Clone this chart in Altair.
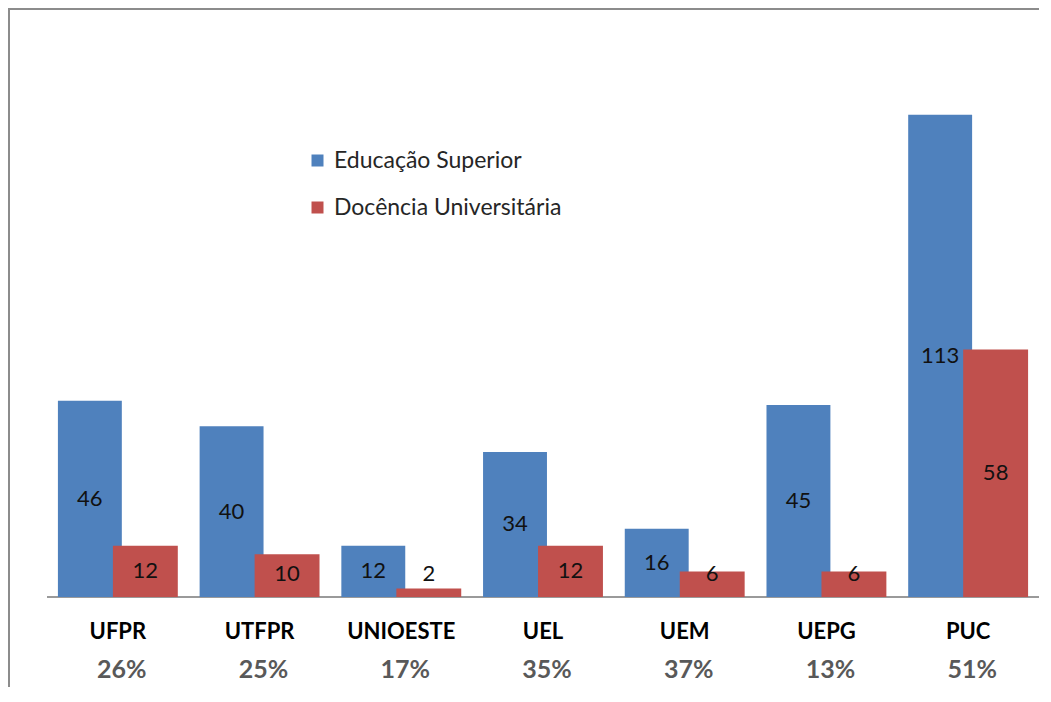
import altair as alt
import pandas as pd

categories = ["UFPR", "UTFPR", "UNIOESTE", "UEL", "UEM", "UEPG", "PUC"]
educacao = [46, 40, 12, 34, 16, 45, 113]
docencia = [12, 10, 2, 12, 6, 6, 58]
percentages = ["26%", "25%", "17%", "35%", "37%", "13%", "51%"]
series_names = ["Educação Superior", "Docência Universitária"]
colors = ["#4F81BD", "#C0504D"]

rows = []
for k, (s, vals) in enumerate(zip(series_names, [educacao, docencia])):
    for i, (c, v) in enumerate(zip(categories, vals)):
        rows.append({"idx": i, "cat": c, "series": s, "value": v, "k": k})
df = pd.DataFrame(rows)
cat_df = pd.DataFrame({"idx": list(range(len(categories))), "cat": categories, "pct": percentages})

W, H = 992, 512
FONT = "Lato"

xscale = alt.Scale(domain=[-0.5, 6.5], nice=False, zero=False)
yscale = alt.Scale(domain=[0, 120], nice=False)

base = alt.Chart(df).transform_calculate(
    x0="datum.k == 0 ? datum.idx - 0.423 : datum.idx - 0.035",
    x1="datum.k == 0 ? datum.idx + 0.028 : datum.idx + 0.423",
).transform_calculate(
    xm="(datum.x0 + datum.x1) / 2",
    ly="max(datum.value / 2, 5.4)",
)

bars = base.mark_bar().encode(
    x=alt.X("x0:Q", scale=xscale, axis=None),
    x2="x1:Q",
    y=alt.Y("value:Q", scale=yscale, axis=None, stack=None),
    y2=alt.datum(0),
    color=alt.Color("series:N", scale=alt.Scale(domain=series_names, range=colors),
                    legend=alt.Legend(title=None, orient="none", legendX=259, legendY=64,
                                      symbolType="square", symbolSize=144,
                                      symbolStrokeWidth=0, labelFontSize=23,
                                      labelFont=FONT, labelColor="#262626",
                                      rowPadding=23, labelOffset=5, labelLimit=400)),
    order=alt.Order("k:Q"),
)

values = base.mark_text(font=FONT, fontSize=22, color="#111111", baseline="middle").encode(
    x=alt.X("xm:Q", scale=xscale, axis=None),
    y=alt.Y("ly:Q", scale=yscale, axis=None),
    text="value:Q",
)

cat_labels = alt.Chart(cat_df).mark_text(font=FONT, fontSize=22, fontWeight="bold",
                                         color="#000000", baseline="middle").encode(
    x=alt.X("idx:Q", scale=xscale, axis=None),
    y=alt.value(H + 35),
    text="cat:N",
)

pct_labels = alt.Chart(cat_df).mark_text(font=FONT, fontSize=25, fontWeight="bold",
                                         color="#595959", baseline="middle", dx=4).encode(
    x=alt.X("idx:Q", scale=xscale, axis=None),
    y=alt.value(H + 73),
    text="pct:N",
)

baseline_rule = alt.Chart(cat_df).mark_rect(color="#9a9a9a").encode(
    x=alt.value(0), x2=alt.value(W), y=alt.value(H - 0.75), y2=alt.value(H + 0.75)
)
left_border = alt.Chart(cat_df).mark_rect(color="#8c8c8c").encode(
    x=alt.value(-39), x2=alt.value(-37), y=alt.value(-77), y2=alt.value(H + 92)
)
top_border = alt.Chart(cat_df).mark_rect(color="#8c8c8c").encode(
    x=alt.value(-39), x2=alt.value(W), y=alt.value(-77), y2=alt.value(-75)
)

chart = alt.layer(left_border, top_border, baseline_rule, bars, values, cat_labels, pct_labels).properties(
    width=W, height=H,
    autosize=alt.AutoSizeParams(type="none"),
    padding={"left": 39, "top": 77, "right": 0, "bottom": 90},
).configure_view(stroke=None)

chart.save("out.html", embed_options={"renderer": "svg", "actions": False})
